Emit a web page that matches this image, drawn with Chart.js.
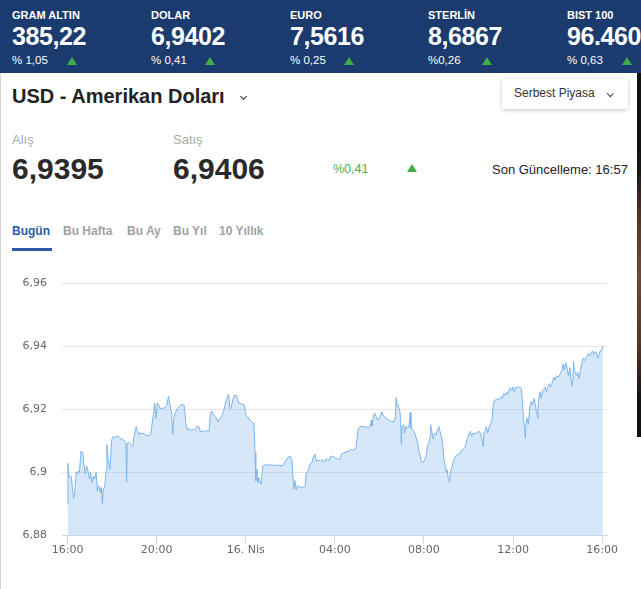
<!DOCTYPE html>
<html><head><meta charset="utf-8">
<script src="https://cdn.jsdelivr.net/npm/chart.js@4"></script>
<style>
body{margin:0;width:641px;height:589px;overflow:hidden;background:#fff;font-family:"Liberation Sans",Arial,Helvetica,sans-serif;position:relative}
.a{position:absolute;white-space:nowrap;line-height:1}
#top{position:absolute;left:0;top:0;width:641px;height:73px;background:#1b3b6e;overflow:hidden}
.lbl{font-size:11px;font-weight:bold;color:#fff;top:9.6px}
.big{font-size:25px;font-weight:bold;color:#fff;top:24px;letter-spacing:-0.4px}
.pct{font-size:11.5px;color:#fff;top:55px}
.tri{position:absolute;width:0;height:0;border-left:5px solid transparent;border-right:5px solid transparent;border-bottom:8px solid #3fae49;top:57px}
#leftb{position:absolute;left:0;top:73px;width:1px;height:516px;background:#d6d6d6}
#stripe{position:absolute;left:637px;top:73px;width:4px;height:364px;background:linear-gradient(to bottom,#111 0%,#141414 25%,#5a3328 40%,#74463a 55%,#5a3328 75%,#111 90%,#111 100%)}
.chev{position:absolute;width:4px;height:4px;border-right:1.4px solid #333;border-bottom:1.4px solid #333;transform:rotate(45deg)}
#box{position:absolute;left:502px;top:79px;width:126px;height:30px;background:#fff;box-shadow:0 1px 4px rgba(0,0,0,0.22);border-radius:2px}
#chartWrap{position:absolute;left:0;top:262px;width:641px;height:327px}
</style></head><body>
<div id="top">
  <div class="a lbl" style="left:12px">GRAM ALTIN</div>
  <div class="a big" style="left:12px">385,22</div>
  <div class="a pct" style="left:12px">% 1,05</div>
  <div class="tri" style="left:67px"></div>
  <div class="a lbl" style="left:151px">DOLAR</div>
  <div class="a big" style="left:151px">6,9402</div>
  <div class="a pct" style="left:151px">% 0,41</div>
  <div class="tri" style="left:205px"></div>
  <div class="a lbl" style="left:290px">EURO</div>
  <div class="a big" style="left:290px">7,5616</div>
  <div class="a pct" style="left:290px">% 0,25</div>
  <div class="tri" style="left:344px"></div>
  <div class="a lbl" style="left:428px">STERLİN</div>
  <div class="a big" style="left:428px">8,6867</div>
  <div class="a pct" style="left:428px">%0,26</div>
  <div class="tri" style="left:482px"></div>
  <div class="a lbl" style="left:567px">BIST 100</div>
  <div class="a big" style="left:567px">96.460</div>
  <div class="a pct" style="left:567px">% 0,63</div>
  <div class="tri" style="left:622px"></div>
</div>
<div id="leftb"></div>
<div id="stripe"></div>

<div class="a" style="left:12px;top:85.5px;font-size:20px;font-weight:bold;color:#222">USD - Amerikan Doları</div>
<div class="chev" style="left:241px;top:94px"></div>
<div id="box"></div>
<div class="a" style="left:514px;top:87px;font-size:12px;color:#333">Serbest Piyasa</div>
<div class="chev" style="left:608px;top:90.5px;width:3.5px;height:3.5px;border-width:1.2px"></div>

<div class="a" style="left:12px;top:133px;font-size:13px;color:#aaa">Alış</div>
<div class="a" style="left:173px;top:133px;font-size:13px;color:#aaa">Satış</div>
<div class="a" style="left:12px;top:154.4px;font-size:30px;font-weight:bold;color:#2a2a2a">6,9395</div>
<div class="a" style="left:173px;top:154.4px;font-size:30px;font-weight:bold;color:#2a2a2a">6,9406</div>
<div class="a" style="left:333px;top:162.5px;font-size:12.5px;color:#4caf50">%0,41</div>
<div class="tri" style="left:407px;top:164px;border-bottom-color:#3fae49"></div>
<div class="a" style="left:492px;top:162.5px;font-size:13px;color:#222">Son Güncelleme: 16:57</div>

<div class="a" style="left:12px;top:225px;font-size:12px;font-weight:bold;color:#2c5aa6">Bugün</div>
<div class="a" style="left:63px;top:225px;font-size:12px;font-weight:bold;color:#a2a2a2">Bu Hafta</div>
<div class="a" style="left:127px;top:225px;font-size:12px;font-weight:bold;color:#a2a2a2">Bu Ay</div>
<div class="a" style="left:173px;top:225px;font-size:12px;font-weight:bold;color:#a2a2a2">Bu Yıl</div>
<div class="a" style="left:219px;top:225px;font-size:12px;font-weight:bold;color:#a2a2a2">10 Yıllık</div>
<div style="position:absolute;left:12px;top:248px;width:40px;height:3px;background:#2c5aa6"></div>

<div id="chartWrap"><canvas id="c" width="641" height="327"></canvas></div>

<script>
// minutes after 16:00 (15 Nisan)
const timeMinutes = [
  0,1,4,9,11,16,19,23,26,29,
  32,36,41,44,48,51,55,59,62,66,
  70,73,77,80,84,88,91,94,96,100,
  104,106,109,114,119,123,128,134,141,150,
  157,159,161,165,170,176,179,185,188,192,
  195,201,206,211,219,224,228,235,238,242,
  246,249,256,263,267,272,276,280,283,286,
  290,296,301,308,314,319,323,326,332,339,
  344,350,355,
  357,366,375,381,385,388,394,399,405,410,
  415,421,426,432,434,437,440,446,449,455,
  458,462,467,473,476,480,485,491,496,500,
  502,505,507,510,512,515,519,521,526,530,
  541,554,568,579,584,589,595,600,604,607,
  610,613,616,620,626,633,640,643,649,652,
  658,663,667,670,676,681,686,692,697,703,
  708,
  714,720,727,734,738,743,750,758,763,768,
  774,777,781,784,790,797,806,815,818,820,
  824,828,831,836,842,846,851,858,865,872,
  880,883,885,888,890,894,897,899,901,905,
  908,912,915,919,923,925,930,935,941,946,
  952,955,959,962,966,969,973,977,978,982,
  985,989,993,996,1000,1003,1007,1011,1014,1018,
  1020,1022,1025,1028,1030,1034,1039,1045,1050,1055,
  1059,1065,1070,
  1076,1082,1085,1089,1092,1098,1103,1109,1112,1116,
  1119,1121,1125,1128,1132,1136,1139,1143,1146,1150,
  1157,1164,1168,1171,1175,1179,1182,1186,1189,1193,
  1197,1200,1204,1208,1213,1218,1222,1225,1228,1231,
  1233,1235,1238,1241,1245,1249,1252,1256,1260,1263,
  1267,1268,1272,1276,1279,1283,1286,1290,1294,1297,
  1301,1304,1310,1313,1317,1322,1328,1331,1335,1338,
  1342,1346,1349,1353,1356,1360,1363,1365,1371,1374,
  1378,1381,1385,1389,1392,1396,1400,1403,1407,1410,
  1414,1418,1421,1425,1428,1432,1435,1439,1442
];
const usdRates = [
  6.8899,6.9028,6.8983,6.8988,6.8973,6.8917,6.8930,6.8999,6.8994,6.9004,
  6.8999,6.9067,6.9061,6.9025,6.8994,6.9020,6.9004,6.8978,6.8999,6.8967,
  6.8988,6.8978,6.8999,6.8941,6.8957,6.8936,6.8952,6.8899,6.8946,6.8952,
  6.9009,6.9088,6.9046,6.9009,6.9103,6.9114,6.9108,6.9116,6.9108,6.9103,
  6.9093,6.8969,6.9093,6.9095,6.9088,6.9082,6.9114,6.9145,6.9130,6.9119,
  6.9126,6.9122,6.9124,6.9117,6.9116,6.9124,6.9156,6.9220,6.9171,6.9220,
  6.9213,6.9203,6.9203,6.9206,6.9213,6.9241,6.9213,6.9192,6.9119,6.9171,
  6.9187,6.9203,6.9210,6.9215,6.9213,6.9150,6.9133,6.9140,6.9133,6.9135,
  6.9135,6.9147,6.9143,
  6.9130,6.9130,6.9132,6.9130,6.9187,6.9195,6.9182,6.9176,6.9161,6.9171,
  6.9176,6.9197,6.9224,6.9244,6.9248,6.9203,6.9203,6.9234,6.9244,6.9244,
  6.9231,6.9220,6.9218,6.9215,6.9213,6.9182,6.9176,6.9166,6.9161,6.9156,
  6.9154,6.9061,6.8973,6.9009,6.8967,6.8983,6.8967,6.8962,6.9020,6.9023,
  6.9023,6.9022,6.9022,6.9020,6.9030,6.9038,6.9049,6.9051,6.9040,6.8988,
  6.8946,6.8973,6.8944,6.8957,6.8952,6.8952,6.8955,6.8999,6.9004,6.9025,
  6.9030,6.9053,6.9056,6.9035,6.9038,6.9035,6.9040,6.9032,6.9043,6.9035,
  6.9049,
  6.9051,6.9046,6.9043,6.9040,6.9059,6.9061,6.9064,6.9067,6.9072,6.9070,
  6.9074,6.9077,6.9124,6.9140,6.9145,6.9145,6.9143,6.9143,6.9166,6.9147,
  6.9182,6.9187,6.9176,6.9166,6.9176,6.9192,6.9179,6.9171,6.9166,6.9161,
  6.9161,6.9176,6.9237,6.9213,6.9208,6.9203,6.9171,6.9088,6.9145,6.9151,
  6.9124,6.9147,6.9140,6.9143,6.9190,6.9140,6.9135,6.9124,6.9103,6.9072,
  6.9040,6.9032,6.9032,6.9040,6.9051,6.9082,6.9093,6.9114,6.9151,6.9124,
  6.9105,6.9124,6.9119,6.9135,6.9145,6.9130,6.9114,6.9082,6.9040,6.9014,
  6.8999,6.9009,6.8983,6.8969,6.8994,6.9009,6.9035,6.9051,6.9056,6.9056,
  6.9067,6.9072,6.9077,
  6.9103,6.9124,6.9130,6.9114,6.9124,6.9122,6.9126,6.9130,6.9122,6.9108,
  6.9082,6.9124,6.9130,6.9145,6.9124,6.9147,6.9154,6.9161,6.9208,6.9229,
  6.9231,6.9234,6.9240,6.9234,6.9250,6.9244,6.9255,6.9248,6.9262,6.9269,
  6.9260,6.9271,6.9255,6.9271,6.9269,6.9271,6.9265,6.9229,6.9171,6.9140,
  6.9108,6.9156,6.9171,6.9151,6.9208,6.9224,6.9213,6.9234,6.9218,6.9192,
  6.9171,6.9224,6.9255,6.9234,6.9260,6.9265,6.9271,6.9255,6.9273,6.9281,
  6.9271,6.9281,6.9302,6.9292,6.9307,6.9302,6.9315,6.9323,6.9344,6.9325,
  6.9349,6.9328,6.9307,6.9333,6.9292,6.9273,6.9352,6.9323,6.9307,6.9318,
  6.9297,6.9323,6.9346,6.9363,6.9354,6.9365,6.9370,6.9377,6.9370,6.9380,
  6.9386,6.9375,6.9384,6.9380,6.9363,6.9375,6.9386,6.9388,6.9401
];
const xTickValues = [0,240,480,720,960,1200,1440];
const xTickLabels = ["16:00","20:00","16. Nis","04:00","08:00","12:00","16:00"];
const yTickValues = [6.88,6.90,6.92,6.94,6.96];
const yTickLabels = ["6,88","6,9","6,92","6,94","6,96"];

const points = timeMinutes.map((t,i)=>({x:t,y:usdRates[i]}));
const tickFont = {family:'"DejaVu Sans", sans-serif', size:11};

new Chart(document.getElementById('c'), {
  type:'line',
  data:{datasets:[{
    data:points,
    borderColor:'#7cb5ec',
    borderWidth:1,
    backgroundColor:'rgba(124,181,236,0.32)',
    fill:'start',
    pointRadius:0,
    tension:0
  }]},
  options:{
    responsive:false,
    animation:false,
    layout:{padding:{top:18,right:34,left:0,bottom:0}},
    plugins:{legend:{display:false},tooltip:{enabled:false}},
    scales:{
      x:{
        type:'linear', min:-15, max:1453,
        afterBuildTicks:s=>{s.ticks=xTickValues.map(v=>({value:v}));},
        afterFit:s=>{s.height=54;},
        ticks:{autoSkip:false,maxRotation:0,padding:1,color:'#666',font:tickFont,
               callback:(v,i)=>xTickLabels[i]},
        grid:{display:true,drawOnChartArea:false,drawTicks:true,tickLength:8,color:'#ccd6eb'},
        border:{display:true,color:'#ccd6eb'}
      },
      y:{
        min:6.88, max:6.96,
        afterBuildTicks:s=>{s.ticks=yTickValues.map(v=>({value:v}));},
        afterFit:s=>{s.width=62;},
        ticks:{padding:15,color:'#666',font:tickFont,callback:(v,i)=>yTickLabels[i]},
        grid:{color:'#e6e6e6',drawTicks:false},
        border:{display:false}
      }
    }
  }
});
</script>
</body></html>
